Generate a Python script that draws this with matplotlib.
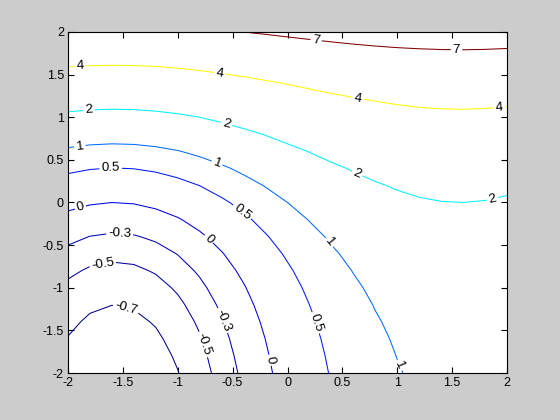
import matplotlib
matplotlib.use('Agg')
import matplotlib.pyplot as plt
import numpy as np

# grid coordinates
x_vals = [-2.0, -1.8, -1.6, -1.4, -1.2, -1.0, -0.8, -0.6, -0.4, -0.2, 0.0,
          0.2, 0.4, 0.6, 0.8, 1.0, 1.2, 1.4, 1.6, 1.8, 2.0]
y_vals = [-2.0, -1.8, -1.6, -1.4, -1.2, -1.0, -0.8, -0.6, -0.4, -0.2, 0.0,
          0.2, 0.4, 0.6, 0.8, 1.0, 1.2, 1.4, 1.6, 1.8, 2.0]
# additive components of the surface read along x and along y
x_part = [-0.9093, -0.9738, -0.9996, -0.9854, -0.9320, -0.8415, -0.7174, -0.5646,
          -0.3894, -0.1987, 0.0, 0.1987, 0.3894, 0.5646, 0.7174, 0.8415, 0.9320,
          0.9854, 0.9996, 0.9738, 0.9093]
y_part = [0.1353, 0.1653, 0.2019, 0.2466, 0.3012, 0.3679, 0.4493, 0.5488, 0.6703,
          0.8187, 1.0, 1.2214, 1.4918, 1.8221, 2.2255, 2.7183, 3.3201, 4.0552,
          4.9530, 6.0496, 7.3891]
levels = [-0.7, -0.5, -0.3, 0, 0.5, 1, 2, 4, 7]
xticks = [-2, -1.5, -1, -0.5, 0, 0.5, 1, 1.5, 2]
yticks = [-2, -1.5, -1, -0.5, 0, 0.5, 1, 1.5, 2]
tick_labels = ['-2', '-1.5', '-1', '-0.5', '0', '0.5', '1', '1.5', '2']

Z = np.add.outer(np.array(y_part), np.array(x_part))

label_pos = [(0.26, 1.9), (1.54, 1.8),
             (-1.89, 1.58), (-0.62, 1.52), (0.64, 1.21), (1.93, 1.11),
             (-1.81, 1.07), (-0.56, 0.91), (0.63, 0.32), (1.87, 0.02),
             (-1.89, 0.64), (-0.64, 0.47), (0.38, -0.47), (1.0, -1.92),
             (-1.61, 0.38), (-0.42, -0.12), (0.26, -1.41),
             (-1.88, -0.09), (-0.71, -0.42), (-0.16, -1.85),
             (-1.53, -0.38), (-0.60, -1.39),
             (-1.68, -0.74), (-0.78, -1.67),
             (-1.47, -1.24)]

plt.rcParams['font.family'] = ['Liberation Sans', 'DejaVu Sans']

# MATLAB-like jet colours for the levels
line_colors = [(0.0, 0.0, 0.55), (0.0, 0.0, 0.65), (0.0, 0.0, 0.75), (0.0, 0.0, 0.9),
               (0.0, 0.1, 1.0), (0.0, 0.42, 1.0), (0.0, 0.95, 1.0), (1.0, 1.0, 0.0),
               (0.5, 0.0, 0.0)]

fig = plt.figure(figsize=(5.6, 4.2), dpi=100, facecolor='#cccccc')
ax = fig.add_axes([0.1214, 0.1119, 0.784, 0.812])
ax.set_facecolor('white')

cs = ax.contour(x_vals, y_vals, Z, levels=levels, colors=line_colors,
                linewidths=0.75)
ax.clabel(cs, fmt='%g', manual=label_pos, fontsize=9.5, colors='k', inline=True,
          inline_spacing=2)

ax.set_xlim(-2, 2)
ax.set_ylim(-2, 2)
ax.set_xticks(xticks)
ax.set_xticklabels(tick_labels)
ax.set_yticks(yticks)
ax.set_yticklabels(tick_labels)
ax.tick_params(direction='in', top=True, right=True, length=4, width=0.8,
               labelsize=9, colors='k', pad=3)
for s in ax.spines.values():
    s.set_linewidth(0.8)
    s.set_color('k')

fig.savefig('out.png', dpi=100, facecolor=fig.get_facecolor())
